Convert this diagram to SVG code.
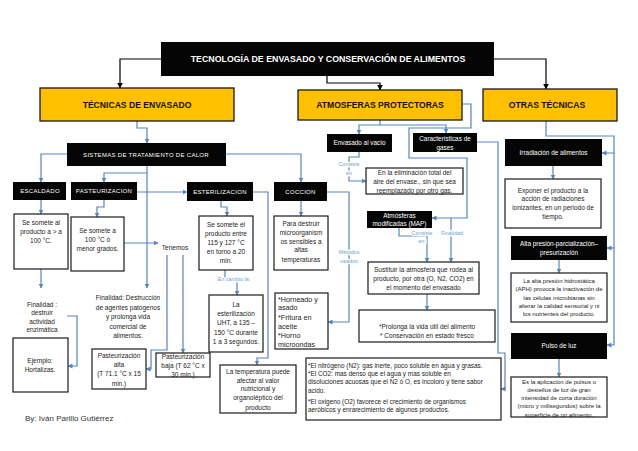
<svg xmlns="http://www.w3.org/2000/svg" width="638" height="451" viewBox="0 0 638 451">
<style>
.bk{fill:#050505}
.ob{fill:#FFC000;stroke:#1a1a1a;stroke-width:1.3}
.tb{fill:#fff;stroke:#1a1a1a;stroke-width:1.2}
.c{fill:none;stroke:#5585C0;stroke-width:1.2}
.k{fill:none;stroke:#000;stroke-width:1.2}
text{font-family:"Liberation Sans",Arial,sans-serif;text-anchor:middle}
.h{font-weight:bold;font-size:8.6px;fill:#111}
.hw{font-weight:bold;font-size:8.8px;fill:#fff}
.w{font-size:6px;fill:#fff;letter-spacing:0.3px}
.w2{font-size:6.4px;fill:#fff}
.t{font-size:6.5px;fill:#222}
.s{font-size:6px;fill:#222}
.l{font-size:6.4px;fill:#222;text-anchor:start}
.m{font-size:7.2px;fill:#222;text-anchor:start}
.b{font-size:5.4px;fill:#6F9FD3;stroke:#fff;stroke-width:2.5;paint-order:stroke}
.by{font-size:8px;fill:#333;text-anchor:start}
</style>
<defs>
<marker id="ab" viewBox="0 0 10 10" refX="9" refY="5" markerWidth="5" markerHeight="5" orient="auto" markerUnits="userSpaceOnUse"><path d="M0,0 L10,5 L0,10 z" fill="#5585C0"/></marker>
<marker id="ak" viewBox="0 0 10 10" refX="9" refY="5" markerWidth="6" markerHeight="6" orient="auto" markerUnits="userSpaceOnUse"><path d="M0,0 L10,5 L0,10 z" fill="#000"/></marker>
</defs>
<rect width="638" height="451" fill="#fff"/>

<g id="connectors">
<path class="k" d="M161,59 H120 V88" marker-end="url(#ak)"/>
<path class="k" d="M327,76 V83 H380 V90" marker-end="url(#ak)"/>
<path class="k" d="M494,59 H546 V89" marker-end="url(#ak)"/>

<path class="c" d="M137,121 V128 H147 V143" marker-end="url(#ab)"/>
<path class="c" d="M67,154 H41 V182" marker-end="url(#ab)"/>
<path class="c" d="M226,154 H301 V182" marker-end="url(#ab)"/>
<path class="c" d="M147,166 V288" marker-end="url(#ab)"/>
<path class="c" d="M147,173 H104 V182" marker-end="url(#ab)"/>
<path class="c" d="M137,192 H187" marker-end="url(#ab)"/>
<path class="c" d="M41,200 V214" marker-end="url(#ab)"/>
<path class="c" d="M41,269 V288" marker-end="url(#ab)"/>
<path class="c" d="M67,316 H77 V366 H68" marker-end="url(#ab)"/>
<path class="c" d="M104,200 V207 H97 V217" marker-end="url(#ab)"/>
<path class="c" d="M124,243 H158" marker-end="url(#ab)"/>
<path class="c" d="M167,255 V350 H151 V369 H146" marker-end="url(#ab)"/>
<path class="c" d="M183,255 V353" marker-end="url(#ab)"/>
<path class="c" d="M221,201 V207 H227 V216" marker-end="url(#ab)"/>
<path class="c" d="M225,270 V279 H237 V295" marker-end="url(#ab)"/>
<path class="c" d="M253,192 H268 V358 H257 V365" marker-end="url(#ab)"/>
<path class="c" d="M301,201 V216" marker-end="url(#ab)"/>
<path class="c" d="M327,192 H349 V322 H328" marker-end="url(#ab)"/>

<path class="c" d="M380,120 V125 H359 V134" marker-end="url(#ab)"/>
<path class="c" d="M380,125 H446 V133" marker-end="url(#ab)"/>
<path class="c" d="M359,152 V157 H349 V181 H366" marker-end="url(#ab)"/>
<path class="c" d="M462,104 H471 V128 H409 V158 H467 V218 H432" marker-end="url(#ab)"/>
<path class="c" d="M451,218 V262" marker-end="url(#ab)"/>
<path class="c" d="M399,228 V236 H427 V262" marker-end="url(#ab)"/>
<path class="c" d="M427,294 V310" marker-end="url(#ab)"/>
<path class="c" d="M477,142 H498 V353 H505 V389 H501" marker-end="url(#ab)"/>

<path class="c" d="M546,121 V136 H614 V153 H602" marker-end="url(#ab)"/>
<path class="c" d="M614,153 V345 H607" marker-end="url(#ab)"/>
<path class="c" d="M614,248 H607" marker-end="url(#ab)"/>
<path class="c" d="M553,166 V179" marker-end="url(#ab)"/>
<path class="c" d="M559,260 V273" marker-end="url(#ab)"/>
<path class="c" d="M559,359 V377" marker-end="url(#ab)"/>

<text class="b" x="234" y="281">En cambio la:</text>
<text class="b" x="349" y="254">Métodos</text>
<text class="b" x="349" y="263">usados</text>
<text class="b" x="349" y="166">Consiste</text>
<text class="b" x="349" y="175">en</text>
<text class="b" x="422" y="235">Consiste</text>
<text class="b" x="422" y="243">en:</text>
<text class="b" x="452" y="235">Finalidad</text>
</g>

<g id="title"><rect class="bk" x="161" y="42" width="333" height="34"/><text class="hw" x="328" y="62">TECNOLOGÍA DE ENVASADO Y CONSERVACIÓN DE ALIMENTOS</text></g>
<g id="tecnicas"><rect class="ob" x="40" y="88" width="194" height="33"/><text class="h" x="137" y="108">TÉCNICAS DE ENVASADO</text></g>
<g id="atmosferas"><rect class="ob" x="298" y="90" width="164" height="30"/><text class="h" x="380" y="108">ATMOSFERAS PROTECTORAS</text></g>
<g id="otras"><rect class="ob" x="483" y="89" width="134" height="32"/><text class="h" x="547" y="108">OTRAS TÉCNICAS</text></g>

<g id="sistemas"><rect class="bk" x="67" y="143" width="159" height="23"/><text class="w" x="146" y="157">SISTEMAS DE TRATAMIENTO DE CALOR</text></g>
<g id="escaldado"><rect class="bk" x="13" y="182" width="53" height="18"/><text class="w" x="40" y="193">ESCALDADO</text></g>
<g id="pasteurizacion"><rect class="bk" x="71" y="182" width="66" height="18"/><text class="w" x="104" y="193">PASTEURIZACION</text></g>
<g id="esterilizacion"><rect class="bk" x="187" y="182" width="66" height="19"/><text class="w" x="220" y="194">ESTERILIZACION</text></g>
<g id="coccion"><rect class="bk" x="274" y="182" width="53" height="19"/><text class="w" x="300.5" y="194">COCCION</text></g>

<g id="escaldado-def"><rect class="tb" x="14" y="214" width="54" height="55"/>
<text class="t" x="41" y="225">Se somete al</text><text class="t" x="41" y="234">producto a &gt; a</text><text class="t" x="41" y="243">100 °C.</text></g>
<g id="escaldado-fin"><text class="t" x="42" y="307">Finalidad :</text><text class="t" x="42" y="315">destruir</text><text class="t" x="42" y="324">actividad</text><text class="t" x="42" y="332">enzimática</text></g>
<g id="ejemplo"><rect class="tb" x="13" y="338" width="55" height="54"/><text class="t" x="40" y="363">Ejemplo:</text><text class="t" x="40" y="372">Hortalizas.</text></g>

<g id="past-def"><rect class="tb" x="71" y="217" width="53" height="54"/>
<text class="t" x="97.5" y="233">Se somete a</text><text class="t" x="97.5" y="242">100 °C ó</text><text class="t" x="97.5" y="251">menor grados.</text></g>
<g id="tenemos"><text class="t" x="175" y="250">Tenemos</text></g>
<g id="past-fin"><text class="t" x="128" y="300">Finalidad: Destrucción</text><text class="t" x="128" y="310">de agentes patógenos</text><text class="t" x="128" y="319">y prolonga vida</text><text class="t" x="128" y="329">comercial de</text><text class="t" x="128" y="338">alimentos.</text></g>
<g id="past-alta"><rect class="tb" x="92" y="349" width="54" height="40"/>
<text class="t" x="119" y="358">Pasteurización</text><text class="t" x="119" y="367">alta</text><text class="t" x="119" y="376">(T 71.1 °C x 15</text><text class="t" x="119" y="386">min.)</text></g>
<g id="past-baja"><rect class="tb" x="156" y="353" width="54" height="24"/>
<text class="t" x="183" y="359">Pasteurización</text><text class="t" x="183" y="368">baja (T 62 °C x</text><text class="t" x="183" y="377">30 min.)</text></g>

<g id="est-def"><rect class="tb" x="199" y="216" width="54" height="54"/>
<text class="t" x="226" y="227">Se somete el</text><text class="t" x="226" y="236">producto entre</text><text class="t" x="226" y="245">115 y 127 °C</text><text class="t" x="226" y="254">en torno a 20</text><text class="t" x="226" y="263">min.</text></g>
<g id="uht"><rect class="tb" x="209" y="295" width="54" height="57"/>
<text class="t" x="236" y="307">La</text><text class="t" x="236" y="316">esterilización</text><text class="t" x="236" y="325">UHT, a 135 –</text><text class="t" x="236" y="335">150 °C durante</text><text class="t" x="236" y="344">1 a 3 segundos.</text></g>
<g id="temperatura"><rect class="tb" x="220" y="365" width="76" height="48"/>
<text class="t" x="258" y="374">La temperatura puede</text><text class="t" x="258" y="383">afectar al valor</text><text class="t" x="258" y="391">nutricional y</text><text class="t" x="258" y="400">organoléptico del</text><text class="t" x="258" y="410">producto</text></g>

<g id="coccion-def"><rect class="tb" x="274" y="216" width="54" height="54"/>
<text class="t" x="301" y="226">Para destruir</text><text class="t" x="301" y="235">microorganism</text><text class="t" x="301" y="244">os sensibles a</text><text class="t" x="301" y="252">altas</text><text class="t" x="301" y="262">temperaturas</text></g>
<g id="metodos"><rect class="tb" x="275" y="293" width="53" height="56"/>
<text class="m" x="278" y="302">*Horneado y</text><text class="m" x="278" y="310">asado</text><text class="m" x="278" y="320">*Fritura en</text><text class="m" x="278" y="329">aceite</text><text class="m" x="278" y="338">*Horno</text><text class="m" x="278" y="347">microondas</text></g>

<g id="vacio"><rect class="bk" x="327" y="134" width="65" height="18"/><text class="w2" x="359.5" y="145">Envasado al vacío</text></g>
<g id="caracteristicas"><rect class="bk" x="413" y="133" width="64" height="19"/><text class="w2" x="445" y="141">Características de</text><text class="w2" x="445" y="150">gases</text></g>
<g id="eliminacion"><rect class="tb" x="366" y="168" width="97" height="26"/>
<text class="t" x="414.5" y="175">En la eliminación total del</text><text class="t" x="414.5" y="184">aire del envase., sin que sea</text><text class="t" x="414.5" y="193">reemplazado por otro gas.</text></g>
<g id="map"><rect class="bk" x="367" y="211" width="65" height="17"/><text class="w2" x="399.5" y="218">Atmósferas</text><text class="w2" x="399.5" y="226">modificadas (MAP)</text></g>
<g id="sustituir"><rect class="tb" x="368" y="262" width="111" height="32"/>
<text class="t" x="423.5" y="272">Sustituir la atmosfera que rodea al</text><text class="t" x="423.5" y="281">producto, por otra (O, N2,  CO2) en</text><text class="t" x="423.5" y="290">el momento del envasado</text></g>
<g id="prolonga"><rect class="tb" x="359" y="310" width="136" height="32"/>
<text class="t" x="427" y="329">*Prolonga la vida útil del alimento</text><text class="t" x="427" y="338">* Conservación en estado fresco</text></g>
<g id="gases"><rect class="tb" x="306" y="358" width="195" height="62"/>
<text class="l" x="308" y="368">*El nitrógeno (N2): gas inerte, poco soluble en agua y grasas.</text>
<text class="l" x="308" y="376">*El CO2: mas denso que el agua y mas soluble en</text>
<text class="l" x="308" y="384">disoluciones acuosas que el N2 ó O, es incoloro y tiene sabor</text>
<text class="l" x="308" y="393">acido.</text>
<text class="l" x="308" y="404">*El oxigeno (O2) favorece el crecimiento de  organismos</text>
<text class="l" x="308" y="412">aeróbicos y enrarecimiento de algunos productos.</text></g>

<g id="irradiacion"><rect class="bk" x="505" y="139" width="97" height="27"/><text class="w2" x="553.5" y="155">Irradiación de alimentos</text></g>
<g id="exponer"><rect class="tb" x="505" y="179" width="96" height="49"/>
<text class="t" x="553" y="193">Exponer el producto a la</text><text class="t" x="553" y="201">acción de radiaciones</text><text class="t" x="553" y="210">ionizantes, en un periodo de</text><text class="t" x="553" y="219">tiempo.</text></g>
<g id="alta"><rect class="bk" x="511" y="236" width="96" height="24"/><text class="w2" x="559" y="246">Alta presión-parcialización–</text><text class="w2" x="559" y="255">presurización</text></g>
<g id="aph"><rect class="tb" x="511" y="273" width="96" height="49"/>
<text class="s" x="559" y="283">La alta presión hidrostática</text><text class="s" x="559" y="291">(APH) provoca la inactivación de</text><text class="s" x="559" y="300">las células microbianas sin</text><text class="s" x="559" y="308">alterar la calidad sensorial y ni</text><text class="s" x="559" y="316">los nutrientes del producto.</text></g>
<g id="pulso"><rect class="bk" x="511" y="333" width="96" height="26"/><text class="w2" x="559" y="348">Pulso de luz</text></g>
<g id="pulso-def"><rect class="tb" x="511" y="377" width="96" height="40"/>
<text class="s" x="559" y="384">Es la aplicación de pulsos o</text><text class="s" x="559" y="392">destellos de luz de gran</text><text class="s" x="559" y="400">intensidad de corta duración</text><text class="s" x="559" y="408">(micro y milisegundos) sobre la</text><text class="s" x="559" y="417">superficie de un alimento.</text></g>

<g id="autor"><text class="by" x="25" y="421">By: Iván Parillo Gutiérrez</text></g>
</svg>
